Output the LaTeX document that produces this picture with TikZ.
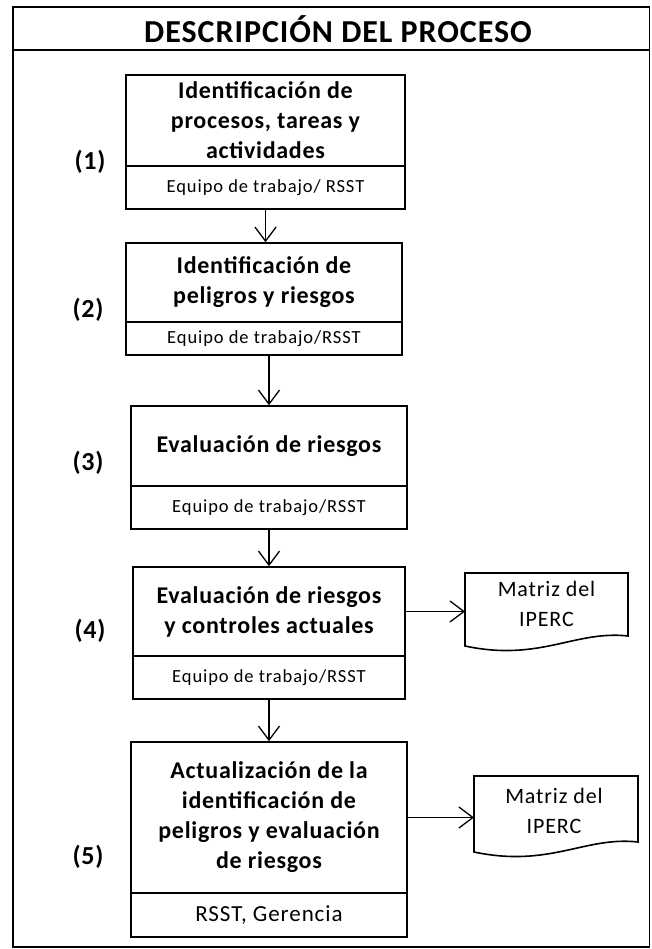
\documentclass[tikz,border=0pt]{standalone}
\usepackage{fontspec}
\setmainfont{Carlito}
\newfontfamily\titlefont[LetterSpace=3]{Carlito}
\newfontfamily\boxfont[LetterSpace=3]{Carlito}
\newfontfamily\subfont[LetterSpace=5]{Carlito}
\newfontfamily\docfont[LetterSpace=4]{Carlito}
\usetikzlibrary{arrows.meta}
\begin{document}
\begin{tikzpicture}[x=1pt,y=-1pt,
  frame/.style={draw, line width=1.6pt},
  boxtop/.style={draw, line width=1.6pt, inner sep=0pt, align=center, font=\boxfont\fontsize{24}{30}\selectfont\bfseries},
  boxsub/.style={draw, line width=1.6pt, inner sep=0pt, align=center, font=\subfont\fontsize{18.5}{20}\selectfont},
  numlabel/.style={inner sep=0pt, font=\boxfont\fontsize{26}{30}\selectfont\bfseries},
  flow/.style={line width=1.3pt, -{Straight Barb[length=14pt,width=21pt,line width=1.3pt]}},
  docshape/.style={draw, line width=1.6pt, fill=white},
  doctext/.style={inner sep=0pt, align=center, font=\docfont\fontsize{22}{30}\selectfont}
]
\useasboundingbox (0,0) rectangle (651,949);
\fill[white] (0,0) rectangle (651,949);
% outer frame and header
\draw[frame] (13,7) rectangle (649.5,947);
\draw[frame] (13,50) -- (649.5,50);
\node[inner sep=0pt, font=\titlefont\fontsize{32}{34}\selectfont\bfseries] (title) at (338,29) {DESCRIPCIÓN DEL PROCESO};

% boxes
\node[boxtop, minimum width=279, minimum height=91] (b1top) at (265.5,120.5) {Identificación de\\procesos, tareas y\\actividades};
\node[boxsub, minimum width=279, minimum height=43] (b1sub) at (265.5,187.5) {Equipo de trabajo/ RSST};

\node[boxtop, minimum width=276, minimum height=79] (b2top) at (264,282.5) {Identificación de\\peligros y riesgos};
\node[boxsub, minimum width=276, minimum height=33] (b2sub) at (264,338.5) {Equipo de trabajo/RSST};

\node[boxtop, minimum width=276, minimum height=80] (b3top) at (269,446) {Evaluación de riesgos};
\node[boxsub, minimum width=276, minimum height=43] (b3sub) at (269,507.5) {Equipo de trabajo/RSST};

\node[boxtop, minimum width=272, minimum height=89] (b4top) at (269,611.5) {Evaluación de riesgos\\y controles actuales};
\node[boxsub, minimum width=272, minimum height=43] (b4sub) at (269,677.5) {Equipo de trabajo/RSST};

\node[boxtop, minimum width=276, minimum height=151] (b5top) at (269,817.5) {Actualización de la\\identificación de\\peligros y evaluación\\de riesgos};
\node[boxsub, minimum width=276, minimum height=44] (b5sub) at (269,915) {\docfont\fontsize{23}{25}\selectfont RSST, Gerencia};

% step numbers
\node[numlabel] (n1) at (90,162) {(1)};
\node[numlabel] (n2) at (88,310) {(2)};
\node[numlabel] (n3) at (88,463) {(3)};
\node[numlabel] (n4) at (90,631) {(4)};
\node[numlabel] (n5) at (88,857) {(5)};

% documents
\draw[docshape] (465,573) -- (628,573) -- (628,636) .. controls (575,630) and (540,662) .. (465,646) -- cycle;
\node[doctext] (doc4) at (546.5,604) {Matriz del\\IPERC};
\coordinate (doc4w) at (465,611.5);

\draw[docshape] (474,776) -- (638,776) -- (638,842) .. controls (585,836) and (550,868) .. (474,852) -- cycle;
\node[doctext] (doc5) at (554,811) {Matriz del\\IPERC};
\coordinate (doc5w) at (474,817.5);

% connectors
\draw[flow] (b1sub.south) -- (b1sub.south |- b2top.north);
\draw[flow] (b2sub.south -| b3top.north) -- (b3top.north);
\draw[flow] (b3sub.south) -- (b4top.north);
\draw[flow] (b4sub.south) -- (b5top.north);
\draw[flow] (b4top.east) -- (doc4w);
\draw[flow] (b5top.east) -- (doc5w);
\end{tikzpicture}
\end{document}
